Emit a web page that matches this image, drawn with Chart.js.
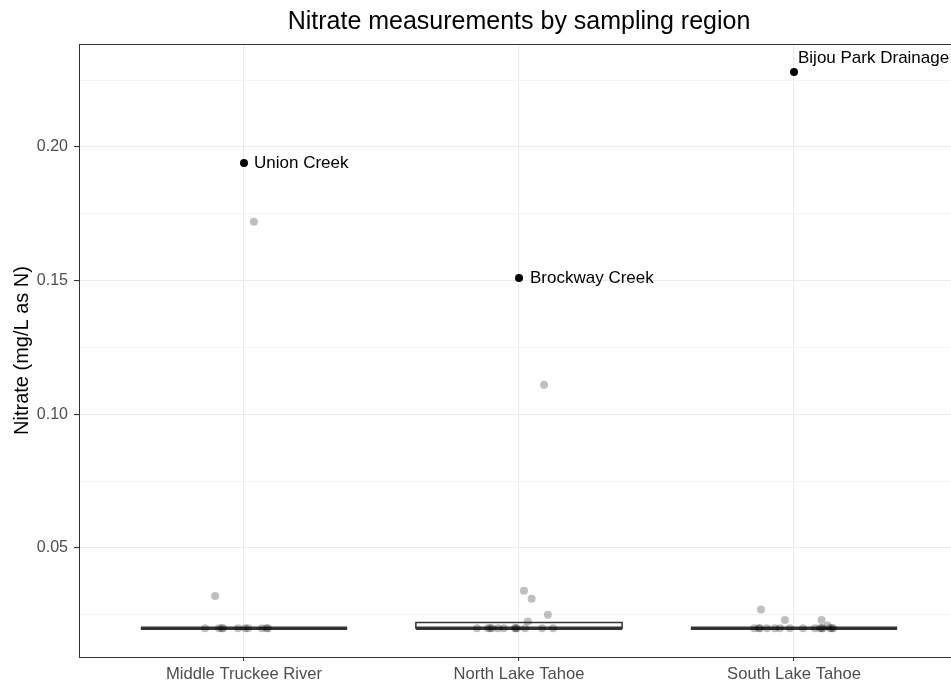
<!DOCTYPE html>
<html>
<head>
<meta charset="utf-8">
<script src="https://cdn.jsdelivr.net/npm/chart.js@4.4.1/dist/chart.umd.min.js"></script>
<style>
  html, body { margin: 0; padding: 0; background: #fff; overflow: hidden; }
  #wrap { width: 975px; height: 683px; }
</style>
</head>
<body>
<div id="wrap"><canvas id="chart"></canvas></div>
<script>
const chartTitle = "Nitrate measurements by sampling region";
const regions = ["Middle Truckee River", "North Lake Tahoe", "South Lake Tahoe"];

// jittered samples, x offset is in category units
const mtrValues = [0.02, 0.02, 0.02, 0.02, 0.02, 0.02, 0.02, 0.02, 0.02, 0.02, 0.172, 0.032];
const mtrJitter = [-0.142, -0.091, -0.081, -0.076, -0.022, 0.004, 0.015, 0.065, 0.082, 0.087, 0.036, -0.105];
const nltValues = [0.02, 0.02, 0.02, 0.02, 0.02, 0.02, 0.02, 0.02, 0.02, 0.02, 0.02, 0.02, 0.111, 0.034, 0.031, 0.025, 0.0225];
const nltJitter = [-0.153, -0.113, -0.105, -0.098, -0.076, -0.055, -0.015, -0.012, -0.007, 0.022, 0.084, 0.124, 0.091, 0.018, 0.046, 0.105, 0.032];
const sltValues = [0.02, 0.02, 0.02, 0.02, 0.02, 0.02, 0.02, 0.02, 0.02, 0.02, 0.02, 0.02, 0.02, 0.02, 0.02, 0.027, 0.023, 0.023, 0.021];
const sltJitter = [-0.145, -0.128, -0.124, -0.098, -0.069, -0.051, -0.015, 0.033, 0.076, 0.095, 0.1, 0.105, 0.131, 0.138, 0.142, -0.12, -0.033, 0.1, 0.122];

// named outliers
const outlierRegion = [0, 1, 2];
const outlierValues = [0.194, 0.151, 0.228];
const outlierNames = ["Union Creek", "Brockway Creek", "Bijou Park Drainage"];

// box stats per region
const boxQ1 = [0.02, 0.02, 0.02];
const boxMedian = [0.02, 0.02, 0.02];
const boxQ3 = [0.02, 0.0221, 0.02];

const yMajorTicks = [0.05, 0.10, 0.15, 0.20];
const yMinorTicks = [0.025, 0.075, 0.125, 0.175, 0.225];

const boxWidth = 0.75;
const labelOffsets = [[10, 0], [11, 0], [4, -14]];
const FONT = "'Liberation Sans', Arial, Helvetica, sans-serif";

function jittered(values, jitter, idx) {
  return values.map((v, i) => ({ x: idx + jitter[i], y: v }));
}

const samplePoints = [
  ...jittered(mtrValues, mtrJitter, 0),
  ...jittered(nltValues, nltJitter, 1),
  ...jittered(sltValues, sltJitter, 2)
];
const outlierPoints = outlierValues.map((v, i) => ({ x: outlierRegion[i], y: v }));

const isMajor = v => yMajorTicks.some(m => Math.abs(m - v) < 1e-9);

const panelPlugin = {
  id: 'panel',
  beforeDatasetsDraw(chart) {
    const { ctx, chartArea: a, scales: { x, y } } = chart;
    ctx.save();
    // boxes
    ctx.strokeStyle = '#333333';
    regions.forEach((r, i) => {
      const x0 = x.getPixelForValue(i - boxWidth / 2);
      const x1 = x.getPixelForValue(i + boxWidth / 2);
      const yLo = y.getPixelForValue(boxQ1[i]);
      const yHi = y.getPixelForValue(boxQ3[i]);
      const yMed = y.getPixelForValue(boxMedian[i]);
      ctx.fillStyle = '#ffffff';
      ctx.fillRect(x0, yHi, x1 - x0, yLo - yHi);
      ctx.lineWidth = 1.5;
      ctx.strokeRect(x0, yHi, x1 - x0, yLo - yHi);
      ctx.lineWidth = 3.5;
      ctx.beginPath();
      ctx.moveTo(x0, yMed);
      ctx.lineTo(x1, yMed);
      ctx.stroke();
    });
    // panel border
    ctx.lineWidth = 1;
    ctx.strokeStyle = '#333333';
    ctx.strokeRect(Math.round(a.left) + 0.5, Math.round(a.top) + 0.5, a.right - a.left, a.bottom - a.top);
    ctx.restore();
  },
  afterDatasetsDraw(chart) {
    const { ctx } = chart;
    const meta = chart.getDatasetMeta(1);
    ctx.save();
    ctx.fillStyle = '#000000';
    ctx.font = `17px ${FONT}`;
    ctx.textAlign = 'left';
    ctx.textBaseline = 'middle';
    meta.data.forEach((pt, i) => {
      ctx.fillText(outlierNames[i], pt.x + labelOffsets[i][0], pt.y + labelOffsets[i][1]);
    });
    ctx.restore();
  },
  afterDraw(chart) {
    const { ctx, chartArea: a } = chart;
    ctx.save();
    ctx.fillStyle = '#000000';
    ctx.font = `25px ${FONT}`;
    ctx.textAlign = 'center';
    ctx.textBaseline = 'middle';
    ctx.fillText(chartTitle, (a.left + a.right) / 2, 22);
    ctx.restore();
  }
};

new Chart(document.getElementById('chart'), {
  type: 'scatter',
  data: {
    datasets: [
      {
        label: 'samples',
        data: samplePoints,
        pointRadius: 4,
        pointBackgroundColor: 'rgba(0,0,0,0.25)',
        pointBorderWidth: 0,
        pointBorderColor: 'rgba(0,0,0,0)'
      },
      {
        label: 'named',
        data: outlierPoints,
        pointRadius: 4,
        pointBackgroundColor: '#000000',
        pointBorderWidth: 0,
        pointBorderColor: 'rgba(0,0,0,0)'
      }
    ]
  },
  options: {
    responsive: true,
    maintainAspectRatio: false,
    animation: false,
    events: [],
    layout: { padding: { top: 44, right: 16, bottom: 0, left: 0 } },
    plugins: {
      legend: { display: false },
      tooltip: { enabled: false }
    },
    scales: {
      x: {
        type: 'linear',
        min: -0.6,
        max: 2.6,
        afterBuildTicks: scale => { scale.ticks = regions.map((r, i) => ({ value: i })); },
        afterFit: scale => { scale.height = 26; },
        ticks: {
          autoSkip: false,
          maxRotation: 0,
          padding: 3,
          color: '#4d4d4d',
          font: { family: FONT, size: 16.6 },
          callback: (v, i) => regions[i]
        },
        grid: {
          color: '#ebebeb',
          lineWidth: 1.1,
          tickLength: 4,
          tickColor: '#333333'
        },
        border: { display: false }
      },
      y: {
        min: 0.0092,
        max: 0.2385,
        afterBuildTicks: scale => {
          scale.ticks = [...yMinorTicks, ...yMajorTicks].sort((a, b) => a - b).map(v => ({ value: v }));
        },
        afterFit: scale => { scale.width = 79; },
        title: {
          display: true,
          text: 'Nitrate (mg/L as N)',
          color: '#000000',
          font: { family: FONT, size: 20 },
          padding: { top: 10, bottom: 0 }
        },
        ticks: {
          padding: 6,
          color: '#4d4d4d',
          font: { family: FONT, size: 16 },
          callback: v => isMajor(v) ? v.toFixed(2) : ''
        },
        grid: {
          color: ctx => isMajor(ctx.tick.value) ? '#ebebeb' : '#f4f4f4',
          lineWidth: ctx => isMajor(ctx.tick.value) ? 1.1 : 1,
          tickLength: 5,
          tickColor: ctx => isMajor(ctx.tick.value) ? '#333333' : 'rgba(0,0,0,0)'
        },
        border: { display: false }
      }
    }
  },
  plugins: [panelPlugin]
});
</script>
</body>
</html>
